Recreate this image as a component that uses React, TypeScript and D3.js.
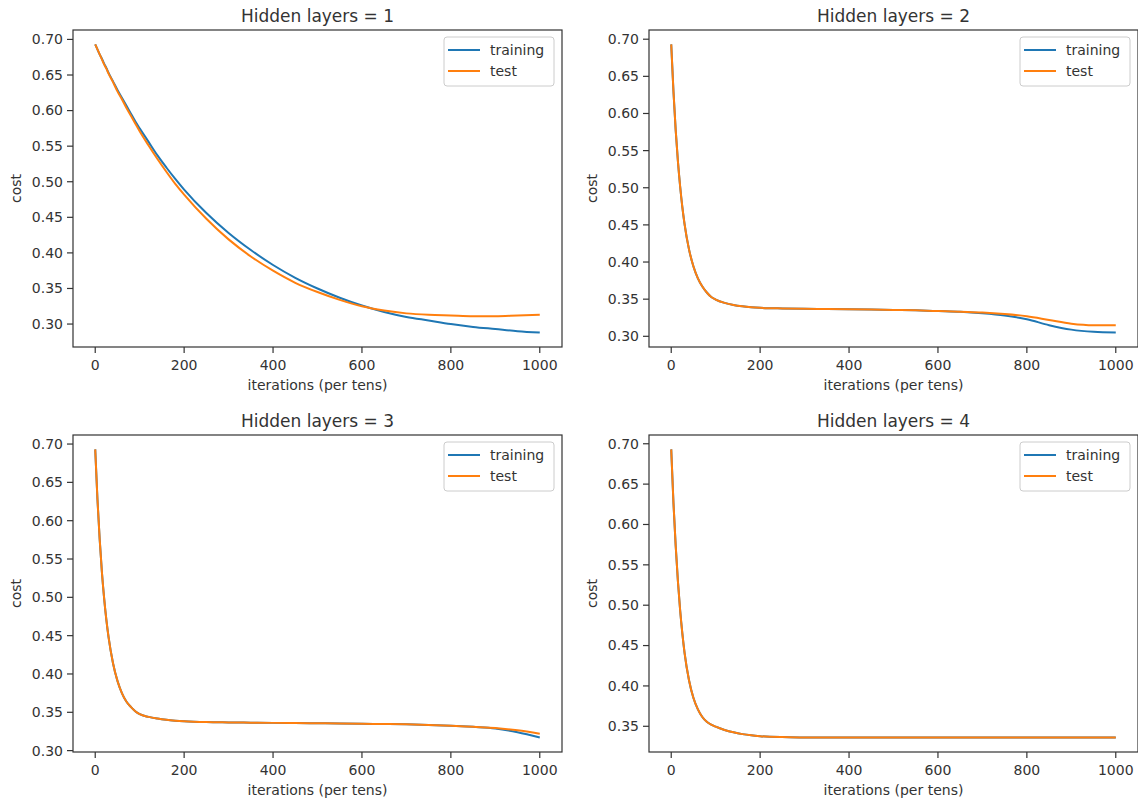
import React from 'react';
import * as d3 from 'd3';

// iterations (per tens) at which the cost was sampled
const iters = [0, 5, 10, 15, 20, 25, 30, 40, 50, 60, 70, 80, 90, 100, 120, 140, 160, 180, 200, 250, 300, 350, 400, 450, 500, 550, 600, 650, 700, 750, 800, 850, 900, 950, 1000];

const train1 = [0.693, 0.686, 0.679, 0.673, 0.666, 0.660, 0.653, 0.641, 0.629, 0.618, 0.607, 0.596, 0.585, 0.575, 0.556, 0.537, 0.520, 0.504, 0.489, 0.456, 0.428, 0.404, 0.383, 0.365, 0.350, 0.337, 0.326, 0.317, 0.310, 0.305, 0.300, 0.296, 0.293, 0.290, 0.288];
const test1 = [0.693, 0.686, 0.679, 0.672, 0.665, 0.659, 0.652, 0.640, 0.627, 0.616, 0.604, 0.593, 0.582, 0.571, 0.551, 0.532, 0.514, 0.497, 0.482, 0.448, 0.419, 0.395, 0.375, 0.358, 0.345, 0.334, 0.325, 0.319, 0.315, 0.313, 0.312, 0.311, 0.311, 0.312, 0.313];

const train2 = [0.693, 0.630, 0.578, 0.536, 0.502, 0.474, 0.451, 0.417, 0.394, 0.378, 0.367, 0.359, 0.353, 0.3495, 0.345, 0.3422, 0.3404, 0.3392, 0.3384, 0.3375, 0.337, 0.3368, 0.3365, 0.336, 0.3355, 0.335, 0.334, 0.333, 0.331, 0.328, 0.323, 0.315, 0.309, 0.306, 0.305];
const test2 = [0.693, 0.630, 0.578, 0.536, 0.502, 0.474, 0.451, 0.417, 0.394, 0.378, 0.367, 0.359, 0.353, 0.3495, 0.345, 0.3422, 0.3404, 0.3392, 0.3384, 0.3375, 0.337, 0.3368, 0.3365, 0.336, 0.3355, 0.335, 0.334, 0.333, 0.332, 0.330, 0.327, 0.322, 0.317, 0.315, 0.315];

const train3 = [0.693, 0.628, 0.576, 0.533, 0.499, 0.471, 0.448, 0.414, 0.391, 0.375, 0.364, 0.357, 0.3515, 0.3475, 0.344, 0.3418, 0.3402, 0.3391, 0.3383, 0.3372, 0.3368, 0.3365, 0.3362, 0.336, 0.3357, 0.3354, 0.335, 0.3347, 0.3343, 0.3335, 0.3325, 0.331, 0.329, 0.324, 0.317];
const test3 = [0.693, 0.628, 0.576, 0.533, 0.499, 0.471, 0.448, 0.414, 0.391, 0.375, 0.364, 0.357, 0.3515, 0.3475, 0.344, 0.3418, 0.3402, 0.3391, 0.3383, 0.3372, 0.3368, 0.3365, 0.3362, 0.336, 0.3357, 0.3354, 0.335, 0.3347, 0.3343, 0.3335, 0.3325, 0.331, 0.3295, 0.3265, 0.322];

const train4 = [0.693, 0.627, 0.574, 0.530, 0.494, 0.465, 0.441, 0.407, 0.385, 0.371, 0.3615, 0.3555, 0.352, 0.3495, 0.3455, 0.3425, 0.3403, 0.3388, 0.3378, 0.3366, 0.3362, 0.336, 0.336, 0.336, 0.336, 0.336, 0.336, 0.336, 0.336, 0.336, 0.336, 0.336, 0.336, 0.336, 0.336];
const test4 = [0.693, 0.627, 0.574, 0.530, 0.494, 0.465, 0.441, 0.407, 0.385, 0.371, 0.3615, 0.3555, 0.352, 0.3495, 0.3455, 0.3425, 0.3403, 0.3388, 0.3378, 0.3366, 0.3362, 0.336, 0.336, 0.336, 0.336, 0.336, 0.336, 0.336, 0.336, 0.336, 0.336, 0.336, 0.336, 0.336, 0.336];

const titles = ['Hidden layers = 1', 'Hidden layers = 2', 'Hidden layers = 3', 'Hidden layers = 4'];
const xTicks = [0, 200, 400, 600, 800, 1000];
const yTicks = [0.30, 0.35, 0.40, 0.45, 0.50, 0.55, 0.60, 0.65, 0.70];
const seriesNames = ['training', 'test'];

const panels = [
  { title: titles[0], train: train1, test: test1 },
  { title: titles[1], train: train2, test: test2 },
  { title: titles[2], train: train3, test: test3 },
  { title: titles[3], train: train4, test: test4 },
];

const BLUE = '#1f77b4';
const ORANGE = '#ff7f0e';
const INK = '#333';
const FONT = 'DejaVu Sans, sans-serif';

const W = 489;
const H = 317;
const origins = [[73, 30], [649, 30], [73, 435], [649, 435]];

const Panel = ({ p, ox, oy }) => {
  const x = d3.scaleLinear().domain([-50, 1050]).range([0, W]);
  const all = p.train.concat(p.test);
  const lo = d3.min(all);
  const hi = d3.max(all);
  const pad = (hi - lo) * 0.05;
  const y = d3.scaleLinear().domain([lo - pad, hi + pad]).range([H, 0]);
  const line = d3.line()
    .x((d, i) => x(iters[i]))
    .y(d => y(d))
    .curve(d3.curveMonotoneX);
  const ticksY = yTicks.filter(t => t >= lo - pad && t <= hi + pad);

  const lgX = W - 8 - 110;
  const lgY = 7;

  return (
    <g transform={`translate(${ox},${oy})`}>
      <text x={W / 2} y={-8} textAnchor="middle" fontSize={17} fill={INK}>{p.title}</text>

      <path d={line(p.train)} fill="none" stroke={BLUE} strokeWidth={2} />
      <path d={line(p.test)} fill="none" stroke={ORANGE} strokeWidth={2} />

      <rect x={0} y={0} width={W} height={H} fill="none" stroke={INK} strokeWidth={1.2} />

      {xTicks.map(t => (
        <g key={t} transform={`translate(${x(t)},${H})`}>
          <line y2={6} stroke={INK} strokeWidth={1.2} />
          <text y={23} textAnchor="middle" fontSize={14} fill={INK}>{t}</text>
        </g>
      ))}
      {ticksY.map(t => (
        <g key={t} transform={`translate(0,${y(t)})`}>
          <line x2={-6} stroke={INK} strokeWidth={1.2} />
          <text x={-10} dy="0.35em" textAnchor="end" fontSize={14} fill={INK}>{t.toFixed(2)}</text>
        </g>
      ))}

      <text x={W / 2} y={H + 43} textAnchor="middle" fontSize={14} fill={INK}>iterations (per tens)</text>
      <text transform={`translate(${-52},${H / 2}) rotate(-90)`} textAnchor="middle" fontSize={14} fill={INK}>cost</text>

      <g transform={`translate(${lgX},${lgY})`}>
        <rect width={110} height={49} rx={3} fill="white" fillOpacity={0.8} stroke="#ccc" />
        {seriesNames.map((s, i) => (
          <g key={s} transform={`translate(0,${13 + i * 21})`}>
            <line x1={4} x2={36} stroke={i === 0 ? BLUE : ORANGE} strokeWidth={2} />
            <text x={46} dy="0.35em" fontSize={14} fill={INK}>{s}</text>
          </g>
        ))}
      </g>
    </g>
  );
};

export default function App() {
  return (
    <svg width={1138} height={803} style={{ position: 'absolute', left: 0, top: 0, background: 'white' }} fontFamily={FONT}>
      {panels.map((p, i) => (
        <Panel key={i} p={p} ox={origins[i][0]} oy={origins[i][1]} />
      ))}
    </svg>
  );
}
